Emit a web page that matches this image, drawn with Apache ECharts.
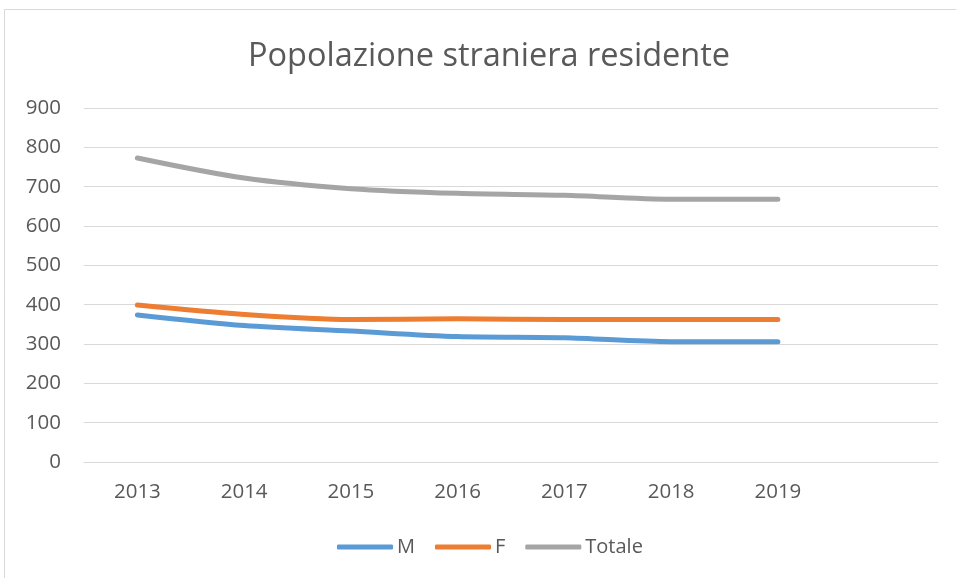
<!DOCTYPE html>
<html><head><meta charset="utf-8">
<script src="https://cdn.jsdelivr.net/npm/echarts@6/dist/echarts.min.js"></script>
<style>html,body{margin:0;padding:0;background:#fff}#c{width:956px;height:578px}</style>
</head><body><div id="c"></div>
<script>
const categories = ["2013","2014","2015","2016","2017","2018","2019",""];
const seriesM = [374, 347, 333, 319, 316, 306, 306];
const seriesF = [399, 375, 362, 364, 362, 362, 362];
const seriesTot = [773, 722, 695, 683, 678, 668, 668];
const yTicks = [0, 100, 200, 300, 400, 500, 600, 700, 800, 900];

const font = "'Open Sans', 'Noto Sans', sans-serif";
const chart = echarts.init(document.getElementById('c'), null, {renderer:'canvas'});
const mk = (name, data, color) => ({
  name, type:'line', data, smooth:0.3, symbol:'none',
  lineStyle:{width:5, color, cap:'round', join:'round'}, itemStyle:{color}
});
chart.setOption({
  animation:false,
  backgroundColor:'#fff',
  graphic:[{type:'rect', shape:{x:4.5,y:9.5,width:1000,height:1000}, style:{fill:'none', stroke:'#d9d9d9', lineWidth:1}, silent:true}],
  title:{text:'Popolazione straniera residente', left:243, top:35,
    textStyle:{fontFamily:font, fontSize:32.5, fontWeight:'normal', color:'#595959'}},
  legend:{top:532, left:332, itemWidth:56, itemHeight:5, itemGap:20,
    icon:'roundRect',
    textStyle:{fontFamily:font, fontSize:20, color:'#595959', padding:[0,0,0,-1]},
    data:['M','F','Totale']},
  grid:{left:84, right:18, top:108, bottom:116},
  xAxis:{type:'category', data:categories, boundaryGap:true,
    axisLine:{lineStyle:{color:'#d9d9d9', width:1}}, axisTick:{show:false},
    axisLabel:{fontFamily:font, fontSize:20.5, color:'#595959', margin:20}},
  yAxis:{type:'value', min:yTicks[0], max:yTicks[yTicks.length-1], interval:100,
    axisLine:{show:false}, axisTick:{show:false},
    splitLine:{lineStyle:{color:'#d9d9d9', width:1}},
    axisLabel:{fontFamily:font, fontSize:20.5, color:'#595959', margin:23}},
  series:[mk('M', seriesM, '#5b9bd5'), mk('F', seriesF, '#ed7d31'), mk('Totale', seriesTot, '#a5a5a5')]
});
</script></body></html>
